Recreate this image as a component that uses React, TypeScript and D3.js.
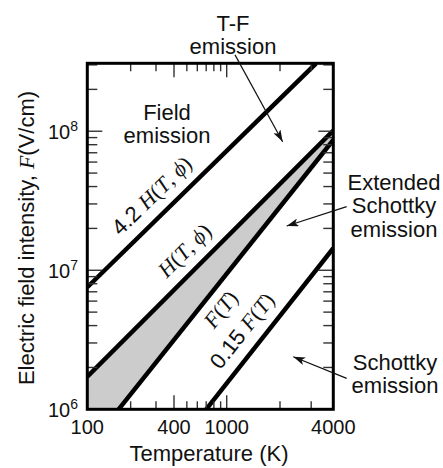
import * as d3 from "d3";
import { useEffect, useRef } from "react";

// axis values
const xBreaks = [100, 400, 1000, 4000];
const xTickLabels = [100, 400, 1000, 4000];
const xMinorTicks = [200, 300, 500, 600, 700, 800, 900, 2000, 3000];
const yExponents = [6, 7, 8];
const yMax = 3.08e8;

// boundary lines, endpoints [T (K), F (V/cm)]
const line42H = [[100, 7.55e6], [3200, 3.08e8]];
const lineH = [[100, 1.72e6], [4000, 1.01e8]];
const lineF = [[165, 1e6], [4000, 8.65e7]];
const line015F = [[700, 1e6], [4000, 1.44e7]];

// arrows, [start, end] in [T, F]
const arrowTF = [[1114, 3.54e8], [2070, 8.4e7]];
const arrowExt = [[4760, 2.87e7], [2182, 2.08e7]];
const arrowSch = [[4760, 1.67e6], [2377, 2.39e6]];

const SANS = "'Liberation Sans', Arial, Helvetica, sans-serif";
const SERIF = "'Liberation Serif', 'Times New Roman', serif";

export default function App() {
    const ref = useRef(null);

    useEffect(() => {
        const width = 443, height = 468;
        const left = 87.3, right = 333.3, top = 63.3, bottom = 409.3;

        const svg = d3.select(ref.current);
        svg.selectAll("*").remove();
        svg.attr("width", width).attr("height", height);

        // old hand-drawn axis: labelled values pinned where they sit
        const x = d3.scaleLog().domain(xBreaks).range([left, 174, 226.7, right]);
        const y = d3.scaleLog().domain([1e6, yMax]).range([bottom, top]);

        const defs = svg.append("defs");
        defs.append("clipPath").attr("id", "plotclip")
            .append("rect")
            .attr("x", left).attr("y", top)
            .attr("width", right - left).attr("height", bottom - top);
        defs.append("marker")
            .attr("id", "ah")
            .attr("viewBox", "0 0 12 8")
            .attr("refX", 12).attr("refY", 4)
            .attr("markerWidth", 12).attr("markerHeight", 8)
            .attr("markerUnits", "userSpaceOnUse")
            .attr("orient", "auto")
            .append("path")
            .attr("d", "M0,0 L12,4 L0,8 L3,4 Z")
            .attr("fill", "#111");

        const pt = (d) => [x(d[0]), y(d[1])];
        const line = d3.line().x(d => x(d[0])).y(d => y(d[1]));

        const plot = svg.append("g").attr("clip-path", "url(#plotclip)");

        // shaded band between H(T, phi) and F(T)
        const band = [lineH[0], lineH[1], lineF[1], lineF[0], [100, 1e6]];
        plot.append("path")
            .attr("d", line(band) + "Z")
            .attr("fill", "#cccccc");

        [line42H, lineH, lineF, line015F].forEach(l => {
            plot.append("path")
                .attr("d", line(l))
                .attr("fill", "none")
                .attr("stroke", "#000")
                .attr("stroke-width", 4.5);
        });

        // ticks, inward on all four sides
        const ticks = svg.append("g").attr("stroke", "#333").attr("stroke-width", 1.4);
        const xMajor = [400, 1000];
        xMinorTicks.concat(xMajor).forEach(v => {
            const len = xMajor.includes(v) ? 14 : 8;
            const px = x(v);
            ticks.append("line").attr("x1", px).attr("x2", px).attr("y1", bottom).attr("y2", bottom - len);
            ticks.append("line").attr("x1", px).attr("x2", px).attr("y1", top).attr("y2", top + len);
        });
        yExponents.forEach(e => {
            for (let k = 1; k <= 9; k++) {
                const v = k * Math.pow(10, e);
                if (v <= 1e6 || v >= yMax) continue;
                const len = k === 1 ? 15 : 10;
                const py = y(v);
                ticks.append("line").attr("x1", left).attr("x2", left + len).attr("y1", py).attr("y2", py);
                ticks.append("line").attr("x1", right).attr("x2", right - len).attr("y1", py).attr("y2", py);
            }
        });

        svg.append("rect")
            .attr("x", left).attr("y", top)
            .attr("width", right - left).attr("height", bottom - top)
            .attr("fill", "none")
            .attr("stroke", "#000")
            .attr("stroke-width", 3);

        // tick labels
        svg.selectAll("text.xt")
            .data(xTickLabels)
            .enter()
            .append("text")
            .attr("class", "xt")
            .attr("x", d => x(d))
            .attr("y", 434)
            .attr("text-anchor", "middle")
            .attr("font-family", SANS)
            .attr("font-size", 20)
            .attr("fill", "#111")
            .text(d => d);

        yExponents.forEach(e => {
            const t = svg.append("text")
                .attr("x", 78)
                .attr("y", y(Math.pow(10, e)) + 7.5)
                .attr("text-anchor", "end")
                .attr("font-family", SANS)
                .attr("font-size", 20)
                .attr("fill", "#111");
            t.append("tspan").text("10");
            t.append("tspan").attr("dy", -8).attr("font-size", 14).text(e);
        });

        // axis titles
        svg.append("text")
            .attr("x", 209).attr("y", 461)
            .attr("text-anchor", "middle")
            .attr("font-family", SANS)
            .attr("font-size", 22)
            .attr("fill", "#111")
            .text("Temperature (K)");

        const yt = svg.append("text")
            .attr("transform", "translate(34,238) rotate(-90)")
            .attr("text-anchor", "middle")
            .attr("font-family", SANS)
            .attr("font-size", 22)
            .attr("fill", "#111");
        yt.append("tspan").text("Electric field intensity,\u00A0");
        yt.append("tspan").attr("font-family", SERIF).attr("font-style", "italic").text("F");
        yt.append("tspan").text("(V/cm)");

        // labels along the lines: [line, fraction along, perpendicular offset, parts]
        const lineLabels = [
            [line42H, 0.344, 20, [["4.2\u00A0", "s"], ["H", "i"], ["(", "r"], ["T", "i"], [",\u00A0", "r"], ["\u03D5", "i"], [")", "r"]]],
            [lineH, 0.454, 20, [["H", "i"], ["(", "r"], ["T", "i"], [",\u00A0", "r"], ["\u03D5", "i"], [")", "r"]]],
            [lineF, 0.412, -18, [["F", "i"], ["(", "r"], ["T", "i"], [")", "r"]]],
            [line015F, 0.409, 20, [["0.15\u00A0", "s"], ["F", "i"], ["(", "r"], ["T", "i"], [")", "r"]]],
        ];
        lineLabels.forEach(([l, f, off, parts]) => {
            const [x0, y0] = pt(l[0]);
            const [x1, y1] = pt(l[1]);
            const len = Math.hypot(x1 - x0, y1 - y0);
            const ux = (x1 - x0) / len, uy = (y1 - y0) / len;
            const nx = uy, ny = -ux;
            const cx = x0 + ux * len * f + nx * off;
            const cy = y0 + uy * len * f + ny * off;
            const ang = Math.atan2(y1 - y0, x1 - x0) * 180 / Math.PI;
            const t = svg.append("text")
                .attr("transform", `translate(${cx},${cy}) rotate(${ang})`)
                .attr("text-anchor", "middle")
                .attr("y", 7)
                .attr("font-size", 22)
                .attr("fill", "#111");
            parts.forEach(([s, k]) => {
                t.append("tspan")
                    .attr("font-family", k === "s" ? SANS : SERIF)
                    .attr("font-style", k === "i" ? "italic" : "normal")
                    .text(s);
            });
        });

        // region labels
        const regionLabels = [
            [233, 31, "T-F"], [233, 54, "emission"],
            [167, 120, "Field"], [167, 143, "emission"],
            [394, 190, "Extended"], [394, 213, "Schottky"], [394, 237, "emission"],
            [395, 370, "Schottky"], [395, 393, "emission"],
        ];
        regionLabels.forEach(([lx, ly, s]) => {
            svg.append("text")
                .attr("x", lx).attr("y", ly)
                .attr("text-anchor", "middle")
                .attr("font-family", SANS)
                .attr("font-size", 22)
                .attr("fill", "#111")
                .text(s);
        });

        [arrowTF, arrowExt, arrowSch].forEach(a => {
            svg.append("path")
                .attr("d", line(a))
                .attr("stroke", "#111")
                .attr("stroke-width", 1.2)
                .attr("fill", "none")
                .attr("marker-end", "url(#ah)");
        });
    }, []);

    return <svg ref={ref} style={{ position: "absolute", left: 0, top: 0, background: "#fff" }}></svg>;
}
